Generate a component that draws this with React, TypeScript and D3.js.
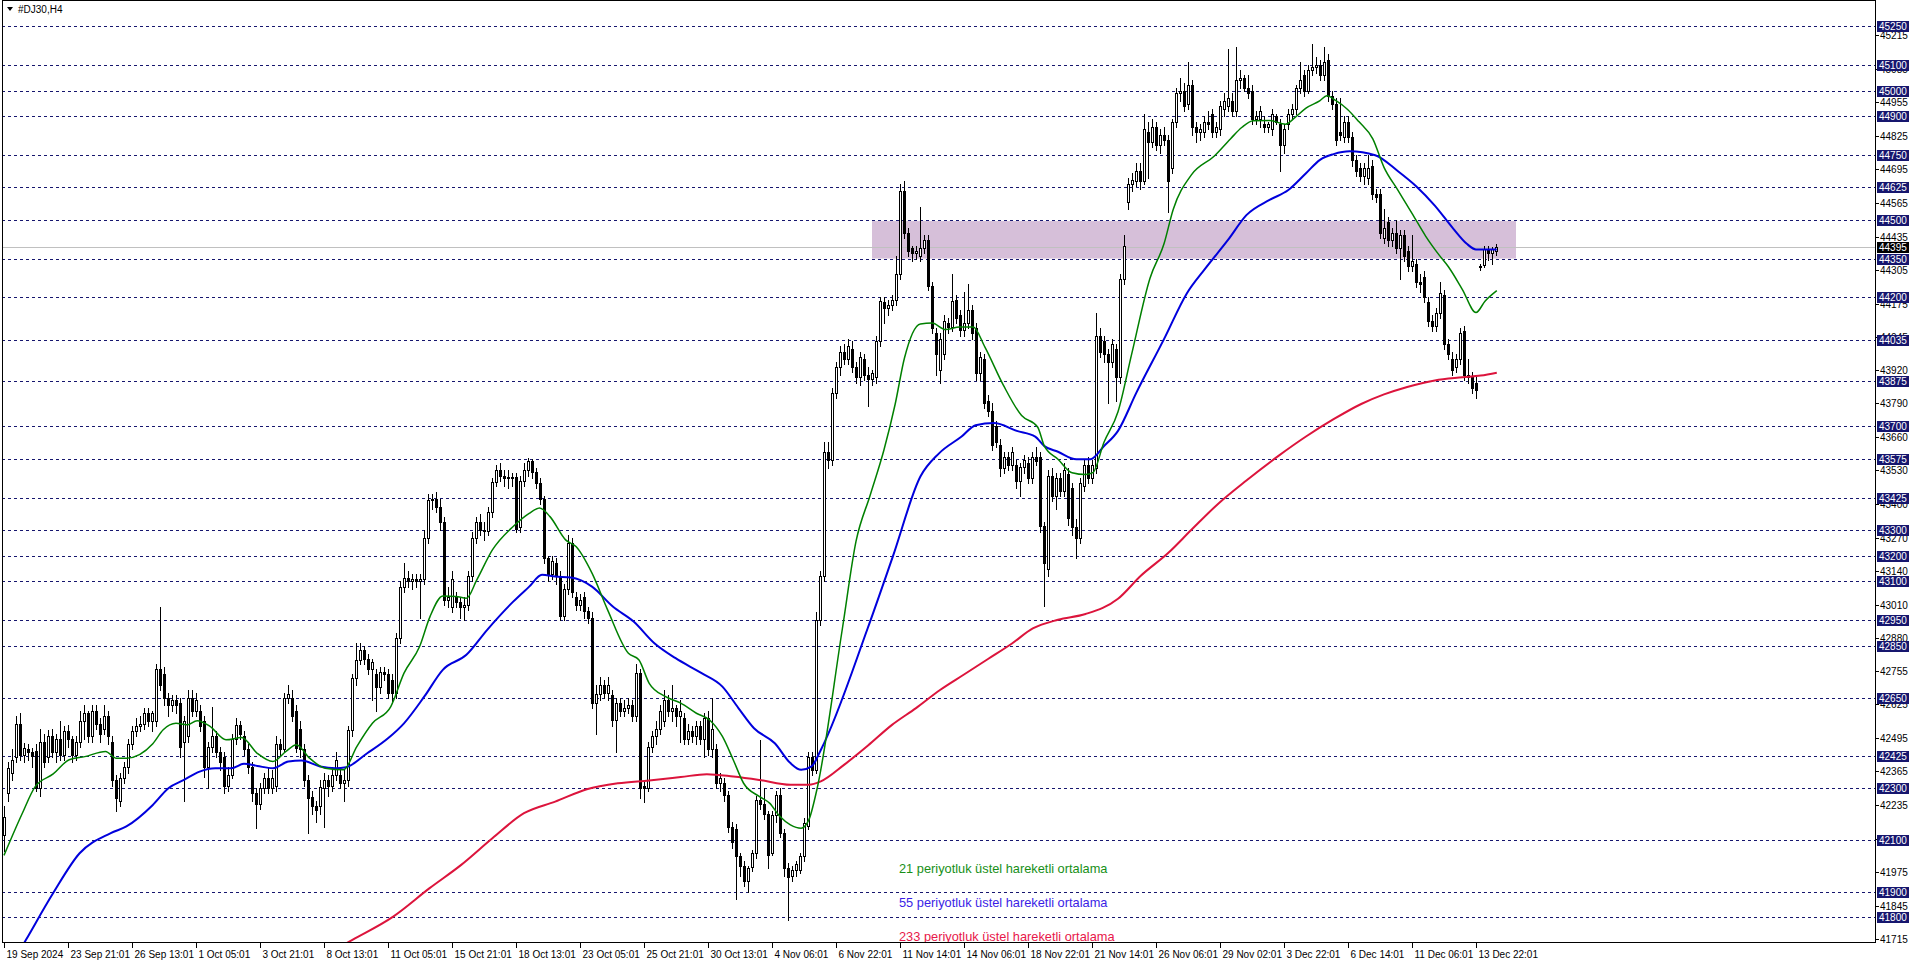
import { useEffect, useRef } from "react";
import * as d3 from "d3";

// open, high, low, close per H4 bar
type Bar = [number, number, number, number];

// 19 Sep - 4 Nov (bars 0-204)
const barsSepOct: Bar[] = [
  [42120, 42230, 42055, 42190], [42280, 42400, 42250, 42378], [42360, 42450, 42330, 42410], [42420, 42578, 42400, 42550],
  [42550, 42590, 42410, 42430], [42430, 42475, 42400, 42455], [42450, 42470, 42410, 42440], [42440, 42455, 42380, 42425],
  [42445, 42470, 42290, 42300], [42300, 42530, 42270, 42480], [42480, 42510, 42380, 42400], [42420, 42525, 42400, 42500],
  [42500, 42530, 42420, 42440], [42440, 42510, 42400, 42490], [42490, 42560, 42410, 42430], [42430, 42540, 42410, 42520],
  [42520, 42545, 42460, 42490], [42490, 42500, 42400, 42430], [42430, 42500, 42410, 42480], [42480, 42600, 42460, 42560],
  [42560, 42620, 42490, 42590], [42590, 42600, 42480, 42500], [42500, 42620, 42480, 42600], [42600, 42620, 42530, 42550],
  [42550, 42570, 42480, 42510], [42530, 42620, 42510, 42580], [42580, 42600, 42470, 42500], [42480, 42500, 42310, 42330],
  [42330, 42350, 42210, 42260], [42250, 42360, 42230, 42340], [42340, 42400, 42320, 42380], [42380, 42490, 42360, 42470],
  [42470, 42540, 42450, 42520], [42520, 42570, 42500, 42540], [42540, 42580, 42520, 42550], [42550, 42610, 42530, 42590],
  [42590, 42610, 42540, 42560], [42560, 42600, 42520, 42590], [42560, 42780, 42540, 42760], [42760, 43000, 42680, 42700],
  [42740, 42770, 42620, 42650], [42650, 42670, 42580, 42620], [42620, 42660, 42600, 42640], [42640, 42660, 42590, 42620],
  [42630, 42650, 42420, 42460], [42480, 42580, 42250, 42560], [42500, 42680, 42480, 42650], [42650, 42680, 42580, 42600],
  [42600, 42670, 42580, 42640], [42600, 42620, 42520, 42540], [42560, 42580, 42345, 42380], [42380, 42480, 42300, 42460],
  [42460, 42616, 42440, 42500], [42500, 42520, 42420, 42440], [42440, 42460, 42370, 42400], [42420, 42440, 42280, 42310],
  [42310, 42380, 42290, 42350], [42350, 42510, 42340, 42490], [42490, 42570, 42470, 42545], [42545, 42560, 42490, 42510],
  [42500, 42520, 42430, 42450], [42450, 42470, 42360, 42380], [42380, 42400, 42250, 42280], [42280, 42300, 42145, 42240],
  [42240, 42320, 42220, 42300], [42300, 42360, 42280, 42340], [42340, 42380, 42280, 42300], [42300, 42370, 42280, 42340],
  [42310, 42500, 42290, 42470], [42470, 42490, 42430, 42450], [42450, 42670, 42440, 42650], [42650, 42700, 42630, 42665],
  [42650, 42680, 42560, 42580], [42600, 42620, 42440, 42455], [42530, 42560, 42420, 42450], [42450, 42470, 42310, 42330],
  [42330, 42350, 42125, 42260], [42265, 42290, 42200, 42230], [42230, 42250, 42170, 42215], [42230, 42330, 42200, 42305],
  [42300, 42360, 42150, 42330], [42330, 42350, 42270, 42310], [42310, 42380, 42290, 42350], [42350, 42440, 42330, 42410],
  [42350, 42380, 42300, 42320], [42320, 42370, 42250, 42330], [42330, 42540, 42310, 42525], [42525, 42740, 42500, 42725],
  [42725, 42860, 42700, 42795], [42795, 42860, 42780, 42835], [42835, 42850, 42780, 42800], [42800, 42820, 42740, 42760],
  [42760, 42800, 42640, 42790], [42740, 42760, 42600, 42690], [42690, 42770, 42670, 42750], [42750, 42770, 42720, 42740],
  [42740, 42760, 42650, 42670], [42720, 42740, 42630, 42670], [42670, 42900, 42650, 42880], [42880, 43100, 42860, 43080],
  [43080, 43170, 43060, 43115], [43115, 43140, 43080, 43100], [43100, 43130, 43070, 43110], [43110, 43130, 43080, 43100],
  [43100, 43130, 42960, 43110], [43110, 43300, 43090, 43270], [43270, 43440, 43250, 43415], [43415, 43440, 43380, 43420],
  [43420, 43445, 43370, 43390], [43390, 43420, 43300, 43330], [43330, 43350, 43010, 43030], [43030, 43080, 43000, 43040],
  [43000, 43140, 42980, 43110], [43040, 43060, 43000, 43020], [43020, 43040, 42960, 43000], [43000, 43040, 42950, 43010],
  [43010, 43140, 42990, 43120], [43120, 43290, 43100, 43270], [43270, 43350, 43250, 43330], [43330, 43360, 43280, 43300],
  [43300, 43330, 43260, 43295], [43295, 43390, 43280, 43370], [43370, 43500, 43350, 43485], [43485, 43550, 43470, 43530],
  [43530, 43560, 43490, 43510], [43510, 43530, 43470, 43500], [43500, 43530, 43460, 43505], [43505, 43520, 43470, 43500],
  [43505, 43520, 43290, 43305], [43310, 43510, 43290, 43490], [43490, 43560, 43470, 43530], [43530, 43577, 43510, 43565],
  [43565, 43575, 43500, 43525], [43525, 43540, 43460, 43480], [43480, 43500, 43400, 43420], [43420, 43430, 43170, 43190],
  [43190, 43200, 43100, 43130], [43130, 43200, 43110, 43180], [43170, 43190, 43090, 43120], [43120, 43140, 42950, 42965],
  [42965, 43090, 42950, 43070], [43070, 43280, 43050, 43250], [43250, 43270, 43040, 43060], [43040, 43060, 42990, 43010],
  [43010, 43050, 42990, 43030], [43040, 43060, 42960, 42985], [42985, 43000, 42940, 42960], [42960, 42980, 42610, 42630],
  [42630, 42700, 42510, 42665], [42665, 42730, 42640, 42700], [42700, 42720, 42650, 42670], [42670, 42730, 42640, 42700],
  [42660, 42680, 42540, 42565], [42565, 42650, 42440, 42630], [42630, 42650, 42580, 42600], [42600, 42640, 42580, 42610],
  [42610, 42650, 42590, 42620], [42620, 42640, 42560, 42580], [42580, 42780, 42560, 42745], [42745, 42760, 42260, 42300],
  [42310, 42330, 42248, 42300], [42300, 42480, 42290, 42460], [42460, 42520, 42440, 42500], [42500, 42560, 42470, 42530],
  [42530, 42620, 42510, 42600], [42560, 42680, 42540, 42640], [42640, 42660, 42580, 42600], [42600, 42700, 42560, 42610],
  [42610, 42620, 42540, 42580], [42580, 42640, 42480, 42600], [42570, 42590, 42470, 42490], [42490, 42550, 42470, 42520],
  [42520, 42540, 42480, 42500], [42500, 42560, 42470, 42540], [42540, 42560, 42470, 42490], [42490, 42590, 42420, 42570],
  [42570, 42600, 42430, 42450], [42450, 42650, 42420, 42530], [42450, 42470, 42300, 42320], [42320, 42360, 42290, 42340],
  [42320, 42340, 42250, 42275], [42275, 42290, 42130, 42150], [42150, 42170, 42070, 42090], [42140, 42160, 41870, 42036],
  [42036, 42050, 41960, 42000], [42000, 42020, 41920, 41940], [41940, 42000, 41900, 41990], [41995, 42060, 41980, 42050],
  [42048, 42270, 42030, 42255], [42255, 42487, 42220, 42240], [42240, 42300, 42180, 42200], [42200, 42210, 41990, 42042],
  [42050, 42210, 42040, 42197], [42197, 42290, 42170, 42274], [42274, 42300, 42110, 42126], [42126, 42140, 41960, 41990],
  [41990, 42010, 41790, 41958], [41960, 42000, 41940, 41985], [41985, 42020, 41960, 42005], [41984, 42050, 41970, 42036],
  [42036, 42184, 42020, 42165], [42152, 42440, 42140, 42422], [42420, 42440, 42350, 42370], [42370, 42980, 42360, 42950],
  [42950, 43140, 42930, 43120],
];

// 5 Nov - 22 Nov (bars 205-280)
const barsNov: Bar[] = [
  [43120, 43640, 43100, 43600], [43600, 43640, 43540, 43570], [43570, 43850, 43550, 43830], [43830, 43950, 43810, 43930],
  [43930, 44010, 43900, 43990], [43990, 44020, 43940, 43960], [43960, 44040, 43940, 44010], [44000, 44030, 43910, 43930],
  [43930, 43950, 43870, 43890], [43890, 43990, 43860, 43970], [43960, 43980, 43880, 43900], [43900, 43930, 43780, 43885],
  [43885, 43920, 43860, 43905], [43890, 44050, 43870, 44030], [44030, 44200, 44010, 44185], [44180, 44200, 44100, 44160],
  [44160, 44190, 44130, 44170], [44170, 44210, 44150, 44190], [44190, 44360, 44170, 44290], [44290, 44640, 44270, 44610],
  [44610, 44650, 44430, 44450], [44450, 44470, 44360, 44380], [44390, 44400, 44340, 44370], [44370, 44400, 44350, 44380],
  [44360, 44550, 44340, 44390], [44390, 44440, 44370, 44420], [44420, 44440, 44230, 44245], [44245, 44260, 44060, 44080],
  [44060, 44080, 43900, 43980], [43920, 44060, 43870, 44040], [43980, 44130, 43960, 44110], [44100, 44120, 44060, 44085],
  [44085, 44290, 44070, 44185], [44190, 44210, 44100, 44120], [44130, 44150, 44050, 44075], [44075, 44220, 44050, 44100],
  [44100, 44250, 44080, 44150], [44150, 44170, 44040, 44060], [44080, 44100, 43880, 43905], [43905, 43990, 43880, 43970],
  [43960, 43980, 43770, 43790], [43800, 43820, 43740, 43760], [43760, 43790, 43610, 43630], [43700, 43720, 43620, 43640],
  [43630, 43650, 43510, 43540], [43540, 43600, 43520, 43580], [43580, 43600, 43530, 43550], [43550, 43620, 43530, 43600],
  [43550, 43570, 43460, 43490], [43490, 43560, 43430, 43545], [43545, 43590, 43520, 43570], [43560, 43580, 43480, 43500],
  [43500, 43600, 43480, 43580], [43580, 43620, 43550, 43565], [43580, 43600, 43290, 43315], [43315, 43330, 43004, 43170],
  [43150, 43530, 43120, 43510], [43510, 43540, 43410, 43430], [43430, 43520, 43380, 43500], [43500, 43520, 43430, 43450],
  [43450, 43560, 43430, 43530], [43515, 43540, 43320, 43345], [43460, 43480, 43280, 43310], [43310, 43340, 43190, 43270],
  [43270, 43500, 43250, 43480], [43470, 43570, 43450, 43550], [43550, 43580, 43480, 43500], [43500, 43570, 43480, 43550],
  [43540, 44140, 43520, 44050], [44050, 44080, 43970, 43990], [44030, 44050, 43950, 43980], [43980, 44000, 43790, 43950],
  [43950, 44040, 43930, 44020], [44000, 44020, 43800, 43890], [43890, 44290, 43870, 44270], [44270, 44440, 44250, 44400],
];

// 22 Nov - 16 Dec (bars 281-373)
const barsDec: Bar[] = [
  [44570, 44660, 44540, 44640], [44640, 44680, 44610, 44655], [44650, 44720, 44630, 44690], [44690, 44720, 44620, 44650],
  [44650, 44910, 44640, 44850], [44840, 44880, 44660, 44800], [44800, 44890, 44780, 44860], [44860, 44880, 44770, 44790],
  [44790, 44850, 44760, 44830], [44830, 44860, 44790, 44810], [44810, 44830, 44530, 44650], [44700, 44890, 44680, 44880],
  [44880, 45010, 44860, 44990], [44990, 45050, 44960, 45000], [45000, 45030, 44920, 44940], [44950, 45110, 44930, 45020],
  [45020, 45040, 44830, 44860], [44860, 44880, 44800, 44840], [44840, 44870, 44810, 44850], [44840, 44900, 44820, 44880],
  [44880, 44920, 44850, 44870], [44910, 44930, 44820, 44840], [44840, 44880, 44820, 44860], [44850, 44960, 44830, 44940],
  [44930, 44990, 44900, 44960], [44940, 45160, 44920, 44970], [44960, 44990, 44900, 44920], [44920, 45170, 44900, 45040],
  [45040, 45080, 45010, 45050], [45050, 45060, 45000, 45010], [45010, 45060, 44970, 44990], [45000, 45020, 44870, 44890],
  [44890, 44920, 44870, 44900], [44890, 44940, 44860, 44920], [44870, 44900, 44840, 44860], [44860, 44880, 44840, 44870],
  [44850, 44930, 44830, 44910], [44900, 44910, 44870, 44880], [44870, 44890, 44690, 44790], [44790, 44870, 44760, 44850],
  [44870, 44930, 44850, 44910], [44910, 44950, 44890, 44930], [44930, 45020, 44910, 45010], [45010, 45110, 44990, 45040],
  [45060, 45080, 44980, 45000], [45000, 45100, 44990, 45080], [45080, 45180, 45060, 45090], [45090, 45130, 45070, 45100],
  [45100, 45120, 45040, 45060], [45060, 45170, 45040, 45110], [45120, 45140, 44960, 44980], [44980, 45000, 44930, 44950],
  [44950, 44970, 44790, 44810], [44840, 44970, 44810, 44830], [44820, 44900, 44800, 44880], [44880, 44900, 44800, 44820],
  [44820, 44840, 44710, 44730], [44730, 44750, 44670, 44690], [44700, 44720, 44650, 44670], [44670, 44720, 44640, 44700],
  [44660, 44750, 44640, 44700], [44710, 44730, 44580, 44600], [44600, 44620, 44570, 44590], [44600, 44620, 44430, 44450],
  [44430, 44540, 44410, 44470], [44490, 44510, 44400, 44420], [44420, 44470, 44400, 44450], [44450, 44500, 44370, 44390],
  [44390, 44460, 44270, 44440], [44440, 44460, 44340, 44360], [44380, 44400, 44300, 44320], [44320, 44440, 44300, 44340],
  [44330, 44350, 44240, 44260], [44260, 44290, 44220, 44250], [44280, 44300, 44180, 44200], [44180, 44200, 44090, 44110],
  [44110, 44130, 44070, 44090], [44090, 44160, 44070, 44140], [44140, 44260, 44120, 44215], [44210, 44230, 44000, 44020],
  [44020, 44040, 43960, 43980], [43960, 43990, 43900, 43920], [43930, 43980, 43910, 43960], [43960, 44080, 43940, 44060],
  [44070, 44090, 43880, 43900], [43900, 43960, 43870, 43890], [43890, 43910, 43830, 43850], [43870, 43890, 43810, 43840],
  [44322, 44328, 44305, 44318], [44325, 44400, 44318, 44387], [44383, 44400, 44345, 44372], [44372, 44395, 44330, 44388],
  [44380, 44406, 44365, 44395],
];

// moving averages: [bar, price]
const ema21: [number, number][] = [
  [0, 42040], [4.5, 42200], [7.8, 42306], [12.3, 42355], [16.3, 42410], [20.2, 42422], [25.4, 42442], [28, 42416],
  [30.6, 42416], [37.2, 42472], [39.8, 42526], [43, 42551], [45.7, 42545], [48.3, 42561], [51.5, 42539], [55.5, 42487],
  [59.4, 42496], [63.3, 42435], [67.2, 42403], [70.5, 42442], [73.1, 42468], [76.4, 42416], [80.3, 42377], [84.9, 42371],
  [88.2, 42461], [92.1, 42551], [96.7, 42616], [100, 42745], [103.9, 42848], [106.5, 42964], [109.7, 43044], [113, 43042],
  [115.6, 43035], [118.2, 43106], [122.1, 43222], [127.3, 43313], [131.3, 43364], [133.9, 43384], [136.5, 43351],
  [140.4, 43261], [143, 43235], [147, 43132], [150.9, 42990], [156.1, 42822], [158.7, 42797], [161.3, 42706],
  [165.3, 42655], [169.2, 42629], [173.1, 42590], [176.4, 42564], [179.6, 42500], [182.3, 42410], [184.9, 42319],
  [188.8, 42268], [191.4, 42242], [194, 42190], [196.6, 42158], [199.3, 42145], [201.2, 42177], [203.2, 42293],
  [209.6, 42918], [213, 43255], [216.5, 43432], [220, 43610], [222.8, 43787], [225.1, 43964], [229.1, 44097], [232, 44100],
  [235.4, 44075], [238.9, 44085], [242.3, 44085], [245.2, 44008], [249.8, 43861], [254.4, 43742], [258.4, 43698],
  [260.1, 43624], [263.5, 43573], [267, 43521], [270.4, 43514], [272.2, 43521], [275, 43639], [278.5, 43757],
  [281.9, 43979], [286.5, 44274], [290, 44407], [292.3, 44540], [296.8, 44673], [302.6, 44747], [306.6, 44813],
  [309.5, 44858], [312.3, 44883], [316.4, 44884], [320.4, 44870], [322.7, 44895], [325.5, 44932], [329, 44961],
  [330.7, 44980], [333, 44961], [335.9, 44927], [338.7, 44880], [342.2, 44813], [345, 44703], [348.5, 44614], [352, 44525],
  [355.4, 44437], [358.8, 44363], [361.1, 44318], [364.6, 44230], [368, 44141], [370.3, 44186], [373.2, 44226],
];

const ema55: [number, number][] = [
  [0, 41567], [5.5, 41713], [12.3, 41894], [18.9, 42048], [26.7, 42126], [30.6, 42152], [37.2, 42235], [41.1, 42300],
  [45, 42332], [48.9, 42364], [52.8, 42377], [56.8, 42377], [60, 42394], [63.3, 42386], [67.2, 42377], [71.1, 42403],
  [74.4, 42407], [79, 42384], [82.9, 42377], [85.5, 42381], [90.8, 42435], [96, 42493], [100, 42551], [105.1, 42655],
  [109.7, 42758], [115.6, 42816], [120.8, 42913], [127.3, 43022], [131.3, 43080], [134.5, 43126], [137.8, 43119],
  [141.7, 43115], [147, 43080], [152.2, 43003], [157.4, 42945], [162.6, 42861], [167.9, 42803], [174.4, 42745],
  [179.6, 42693], [183.6, 42610], [187.5, 42532], [192.7, 42474], [196.6, 42397], [199.3, 42371], [201.9, 42384],
  [204.2, 42448], [215.9, 42918], [222.2, 43196], [229.1, 43506], [233.7, 43595], [239.4, 43661], [242.9, 43705],
  [247.5, 43713], [253.2, 43683], [257.8, 43661], [260.1, 43624], [263.5, 43602], [268.1, 43573], [271.6, 43573],
  [275, 43624], [278.5, 43683], [283.1, 43831], [290, 44038], [295.7, 44215], [300.3, 44311], [306, 44422], [310.6, 44518],
  [316.4, 44577], [321, 44614], [325.5, 44680], [329, 44732], [332.4, 44754], [336.4, 44765], [342.8, 44750],
  [348.5, 44688], [353.1, 44629], [357.7, 44555], [362.3, 44466], [365.7, 44407], [368, 44385], [373.2, 44385],
];

const ema233: [number, number][] = [
  [80, 41650], [87.1, 41713], [97.3, 41803], [106.4, 41913], [114.3, 42003], [122.1, 42106], [130, 42203], [137.8, 42248],
  [145.7, 42296], [153.5, 42319], [161.3, 42330], [169.2, 42343], [175.7, 42354], [182.3, 42345], [188.8, 42332],
  [196.6, 42313], [201.2, 42313], [204.2, 42326], [210, 42390], [216, 42465], [222, 42545], [228, 42610], [234, 42680],
  [240, 42740], [246, 42800], [252, 42860], [257.2, 42918], [263.5, 42952], [270.4, 42974], [278.5, 43033], [284.2, 43122],
  [291.1, 43211], [296.8, 43299], [303.7, 43403], [310.6, 43491], [318.7, 43587], [325.5, 43661], [332.4, 43728],
  [339.3, 43787], [345, 43824], [350.8, 43853], [357.7, 43878], [364.6, 43890], [369.2, 43897], [373.2, 43908],
];

// horizontal lines drawn on the chart
const hLevels = [
  45250, 45100, 45000, 44900, 44750, 44625, 44500, 44350, 44200, 44035, 43875, 43700, 43575,
  43425, 43300, 43200, 43100, 42950, 42850, 42650, 42425, 42300, 42100, 41900, 41800,
];

// plain price scale labels
const priceTicks = [
  45215, 45085, 44955, 44825, 44695, 44565, 44435, 44305, 44175, 44045, 43920, 43790, 43660, 43530,
  43400, 43270, 43140, 43010, 42880, 42755, 42625, 42495, 42365, 42235, 42105, 41975, 41845, 41715,
];

const lastPrice = 44395;

// zone rectangle: bar range and price range
const zoneBars = [217, 378];
const zonePrices = [44350, 44495];

const dateTicks: [number, string][] = [
  [0, "19 Sep 2024"], [16, "23 Sep 21:01"], [32, "26 Sep 13:01"], [48, "1 Oct 05:01"], [64, "3 Oct 21:01"],
  [80, "8 Oct 13:01"], [96, "11 Oct 05:01"], [112, "15 Oct 21:01"], [128, "18 Oct 13:01"], [144, "23 Oct 05:01"],
  [160, "25 Oct 21:01"], [176, "30 Oct 13:01"], [192, "4 Nov 06:01"], [208, "6 Nov 22:01"], [224, "11 Nov 14:01"],
  [240, "14 Nov 06:01"], [256, "18 Nov 22:01"], [272, "21 Nov 14:01"], [288, "26 Nov 06:01"], [304, "29 Nov 02:01"],
  [320, "3 Dec 22:01"], [336, "6 Dec 14:01"], [352, "11 Dec 06:01"], [368, "13 Dec 22:01"],
];

const legendItems = [
  { text: "21 periyotluk üstel hareketli ortalama", color: "#178f17" },
  { text: "55 periyotluk üstel hareketli ortalama", color: "#3a1ee6" },
  { text: "233 periyotluk üstel hareketli ortalama", color: "#e8174a" },
];

const W = 1916;
const H = 963;
const FONT = "'Liberation Sans', Arial, sans-serif";

export default function App() {
  const svgRef = useRef<SVGSVGElement>(null);

  useEffect(() => {
    document.body.style.margin = "0";
    document.body.style.overflow = "hidden";
    if (!svgRef.current) return;

    const bars = [...barsSepOct, ...barsNov, ...barsDec];
    const left = 2, right = 1875, top = 1, bottom = 942;

    const x = d3.scaleLinear().domain([0, 373]).range([4, 1496]);
    const y = d3.scaleLinear().domain([41715, 45250]).range([939.3, 26]);
    const py = (v: number) => Math.round(y(v)) + 0.5;

    const svg = d3.select(svgRef.current);
    svg.selectAll("*").remove();

    svg.append("rect").attr("width", W).attr("height", H).attr("fill", "#fff");

    svg.append("clipPath").attr("id", "plot")
      .append("rect").attr("x", left).attr("y", top).attr("width", right - left).attr("height", bottom - top);

    const plot = svg.append("g").attr("clip-path", "url(#plot)");

    // zone
    plot.append("rect")
      .attr("x", x(zoneBars[0]))
      .attr("y", y(zonePrices[1]))
      .attr("width", x(zoneBars[1]) - x(zoneBars[0]))
      .attr("height", y(zonePrices[0]) - y(zonePrices[1]))
      .attr("fill", "#d6bfd9");

    // dashed horizontal levels
    plot.selectAll("line.lvl")
      .data(hLevels)
      .enter()
      .append("line")
      .attr("x1", left).attr("x2", right)
      .attr("y1", (d) => py(d)).attr("y2", (d) => py(d))
      .attr("stroke", "#16166e")
      .attr("stroke-dasharray", "3,3");

    // last price line
    plot.append("line")
      .attr("x1", left).attr("x2", right)
      .attr("y1", py(lastPrice)).attr("y2", py(lastPrice))
      .attr("stroke", "#c0c0c0");

    // candles
    const cg = plot.append("g").attr("shape-rendering", "crispEdges");
    bars.forEach((b, i) => {
      const [o, hi, lo, c] = b;
      const cx = Math.round(x(i));
      const h = Math.max(hi, o, c);
      const l = Math.min(lo, o, c);
      cg.append("line")
        .attr("x1", cx + 0.5).attr("x2", cx + 0.5)
        .attr("y1", Math.round(y(h))).attr("y2", Math.round(y(l)) + 1)
        .attr("stroke", "#000");
      const yt = Math.round(y(Math.max(o, c)));
      const yb = Math.round(y(Math.min(o, c)));
      if (yb - yt < 1) {
        cg.append("line")
          .attr("x1", cx - 1).attr("x2", cx + 2)
          .attr("y1", yt + 0.5).attr("y2", yt + 0.5)
          .attr("stroke", "#000");
      } else {
        cg.append("rect")
          .attr("x", cx - 0.5).attr("y", yt + 0.5)
          .attr("width", 2).attr("height", yb - yt)
          .attr("fill", c >= o ? "#fff" : "#000")
          .attr("stroke", "#000");
      }
    });

    // moving averages
    const line = d3.line<[number, number]>()
      .x((d) => x(d[0]))
      .y((d) => y(d[1]))
      .curve(d3.curveMonotoneX);

    const mas: [[number, number][], string, number][] = [
      [ema233, "#dc143c", 2],
      [ema55, "#0000dc", 2],
      [ema21, "#008000", 1.5],
    ];
    mas.forEach(([data, color, w]) => {
      plot.append("path")
        .attr("d", line(data) || "")
        .attr("fill", "none")
        .attr("stroke", color)
        .attr("stroke-width", w);
    });

    // legend text
    legendItems.forEach((it, i) => {
      plot.append("text")
        .attr("x", 899)
        .attr("y", 873 + i * 34)
        .attr("fill", it.color)
        .attr("font-family", FONT)
        .attr("font-size", 12.8)
        .text(it.text);
    });

    // frame
    svg.append("rect")
      .attr("x", left + 0.5).attr("y", top - 0.5)
      .attr("width", right - left).attr("height", bottom - top + 0.5)
      .attr("fill", "none").attr("stroke", "#000")
      .attr("shape-rendering", "crispEdges");

    // title
    svg.append("path").attr("d", "M7,7 L13,7 L10,11 Z").attr("fill", "#000");
    svg.append("text")
      .attr("x", 18).attr("y", 13)
      .attr("font-family", FONT).attr("font-size", 10)
      .attr("fill", "#000")
      .text("#DJ30,H4");

    // right price axis (plain labels sit behind the level boxes, as in the terminal)
    const ax = svg.append("g").attr("font-family", FONT).attr("font-size", 10);
    priceTicks.forEach((p) => {
      const yy = py(p);
      ax.append("line").attr("x1", right).attr("x2", right + 4).attr("y1", yy).attr("y2", yy).attr("stroke", "#000");
      ax.append("text").attr("x", right + 5).attr("y", yy + 3.5).attr("fill", "#000").text(String(p));
    });
    hLevels.forEach((p) => {
      const yy = Math.round(y(p));
      ax.append("rect").attr("x", right + 2).attr("y", yy - 5).attr("width", 32).attr("height", 11).attr("fill", "#16166e");
      ax.append("text").attr("x", right + 4).attr("y", yy + 4).attr("fill", "#fff").text(String(p));
    });
    {
      const yy = Math.round(y(lastPrice));
      ax.append("rect").attr("x", right + 2).attr("y", yy - 5).attr("width", 32).attr("height", 11).attr("fill", "#000");
      ax.append("text").attr("x", right + 4).attr("y", yy + 4).attr("fill", "#fff").text(String(lastPrice));
    }

    // bottom time axis
    const bx = svg.append("g").attr("font-family", FONT).attr("font-size", 10);
    dateTicks.forEach(([b, label]) => {
      const xx = Math.round(x(b)) + 0.5;
      bx.append("line").attr("x1", xx).attr("x2", xx).attr("y1", bottom).attr("y2", bottom + 6).attr("stroke", "#000");
      bx.append("text").attr("x", xx + 2).attr("y", 958).attr("fill", "#000").text(label);
    });
  }, []);

  return <svg ref={svgRef} width={W} height={H} style={{ display: "block" }} />;
}
